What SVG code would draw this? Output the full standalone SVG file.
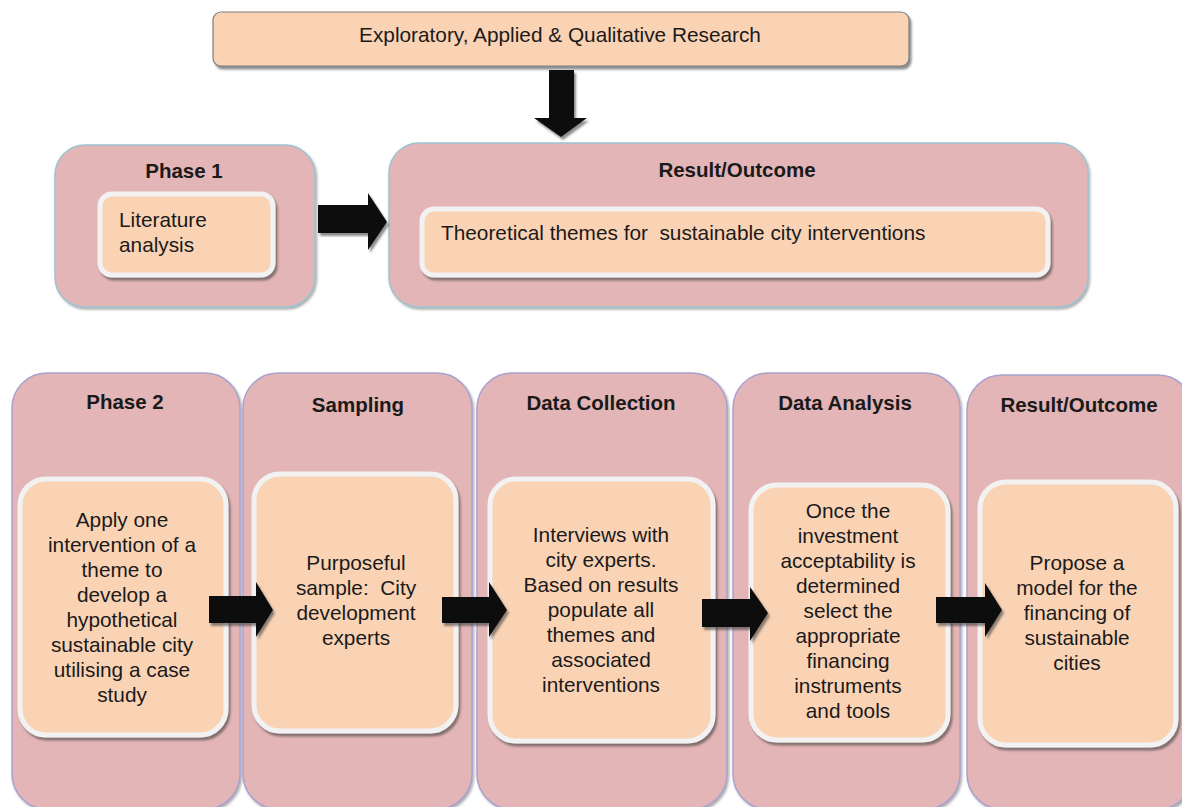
<svg xmlns="http://www.w3.org/2000/svg" width="1182" height="807" viewBox="0 0 1182 807">
  <defs>
    <filter id="sh" x="-10%" y="-10%" width="130%" height="130%">
      <feDropShadow dx="2" dy="3" stdDeviation="1" flood-color="#404040" flood-opacity="0.6"/>
    </filter>
    <filter id="shs" x="-10%" y="-10%" width="130%" height="130%">
      <feDropShadow dx="1.5" dy="2" stdDeviation="1" flood-color="#606060" flood-opacity="0.5"/>
    </filter>
  </defs>
  <style>
    .outerT { fill: #E3B5B6; stroke: #9CC3D2; stroke-width: 1.5; filter: url(#shs); }
    .outerB { fill: #E3B5B6; stroke: #A9A2CF; stroke-width: 1.5; filter: url(#shs); }
    .inner { fill: #FAD3B5; stroke: #F2F2F2; stroke-width: 5; filter: url(#sh); }
    .top { fill: #FAD3B5; stroke: #7F7F7F; stroke-width: 1.2; filter: url(#sh); }
    .arrow { fill: #0D0D0D; filter: url(#sh); }
    text { font-family: "Liberation Sans", Arial, sans-serif; font-size: 20.8px; fill: #1A1A1A; }
    .b { font-weight: bold; font-size: 20.5px; }
    .c { text-anchor: middle; }
  </style>
  <rect width="1182" height="807" fill="#FFFFFF"/>

  <g id="research">
    <rect class="top" x="213" y="12" width="696" height="54" rx="8"/>
    <text class="c" x="560" y="42">Exploratory, Applied &amp; Qualitative Research</text>
  </g>

  <g id="phase1">
    <rect class="outerT" x="55" y="145" width="260" height="162" rx="30"/>
    <text class="b c" x="184" y="178">Phase 1</text>
    <g id="literature">
      <rect class="inner" x="100" y="194" width="173" height="81" rx="12"/>
      <text x="119" y="227">Literature</text>
      <text x="119" y="252">analysis</text>
    </g>
  </g>

  <g id="result1">
    <rect class="outerT" x="389" y="143" width="699" height="164" rx="30"/>
    <text class="b c" x="737" y="177">Result/Outcome</text>
    <g id="themes">
      <rect class="inner" x="422" y="209" width="626" height="66" rx="12"/>
      <text x="441" y="240" xml:space="preserve">Theoretical themes for  sustainable city interventions</text>
    </g>
  </g>

  <g id="phase2">
    <rect class="outerB" x="12" y="373" width="228" height="436" rx="35"/>
    <text class="b c" x="125" y="409">Phase 2</text>
    <rect class="inner" x="20" y="479" width="206" height="256" rx="26"/>
    <text class="c" x="122" y="527">Apply one</text>
    <text class="c" x="122" y="552">intervention of a</text>
    <text class="c" x="122" y="577">theme to</text>
    <text class="c" x="122" y="602">develop a</text>
    <text class="c" x="122" y="627">hypothetical</text>
    <text class="c" x="122" y="652">sustainable city</text>
    <text class="c" x="122" y="677">utilising a case</text>
    <text class="c" x="122" y="702">study</text>
  </g>

  <g id="sampling">
    <rect class="outerB" x="243" y="373" width="229" height="436" rx="35"/>
    <text class="b c" x="358" y="412">Sampling</text>
    <rect class="inner" x="254" y="474" width="202" height="257" rx="26"/>
    <text class="c" x="356" y="570">Purposeful</text>
    <text class="c" x="356" y="595" xml:space="preserve">sample:  City</text>
    <text class="c" x="356" y="620">development</text>
    <text class="c" x="356" y="645">experts</text>
  </g>

  <g id="collection">
    <rect class="outerB" x="477" y="373" width="250" height="436" rx="35"/>
    <text class="b c" x="601" y="410">Data Collection</text>
    <rect class="inner" x="490" y="479" width="223" height="262" rx="26"/>
    <text class="c" x="601" y="542">Interviews with</text>
    <text class="c" x="601" y="567">city experts.</text>
    <text class="c" x="601" y="592">Based on results</text>
    <text class="c" x="601" y="617">populate all</text>
    <text class="c" x="601" y="642">themes and</text>
    <text class="c" x="601" y="667">associated</text>
    <text class="c" x="601" y="692">interventions</text>
  </g>

  <g id="analysis">
    <rect class="outerB" x="733" y="373" width="227" height="436" rx="35"/>
    <text class="b c" x="845" y="410">Data Analysis</text>
    <rect class="inner" x="751" y="485" width="197" height="255" rx="26"/>
    <text class="c" x="848" y="518">Once the</text>
    <text class="c" x="848" y="543">investment</text>
    <text class="c" x="848" y="568">acceptability is</text>
    <text class="c" x="848" y="593">determined</text>
    <text class="c" x="848" y="618">select the</text>
    <text class="c" x="848" y="643">appropriate</text>
    <text class="c" x="848" y="668">financing</text>
    <text class="c" x="848" y="693">instruments</text>
    <text class="c" x="848" y="718">and tools</text>
  </g>

  <g id="result2">
    <rect class="outerB" x="967" y="375" width="226" height="434" rx="35"/>
    <text class="b c" x="1079" y="412">Result/Outcome</text>
    <rect class="inner" x="980" y="482" width="196" height="263" rx="26"/>
    <text class="c" x="1077" y="570">Propose a</text>
    <text class="c" x="1077" y="595">model for the</text>
    <text class="c" x="1077" y="620">financing of</text>
    <text class="c" x="1077" y="645">sustainable</text>
    <text class="c" x="1077" y="670">cities</text>
  </g>

  <g id="connectors">
    <polygon class="arrow" points="549,70 574,70 574,118 587,118 561,137 534,118 549,118"/>
    <polygon class="arrow" points="318,205 368,205 368,193 387,222 368,250 368,233 318,233"/>
    <polygon class="arrow" points="209,596 256,596 256,582 273,610 256,637 256,623 209,623"/>
    <polygon class="arrow" points="442,597 489,597 489,582 507,610 489,637 489,623 442,623"/>
    <polygon class="arrow" points="702,599 750,599 750,587 768,613 750,641 750,627 702,627"/>
    <polygon class="arrow" points="936,597 985,597 985,583 1002,610 985,637 985,623 936,623"/>
  </g>
</svg>
